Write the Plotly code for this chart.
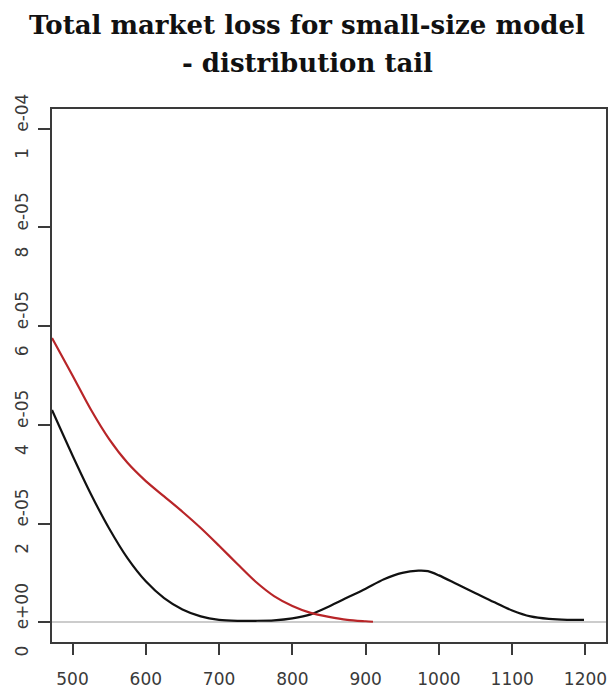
import plotly.graph_objects as go

# Tail of the total market loss density: fitted model (black) vs. empirical (red)
model_loss = [472, 500, 525, 550, 575, 600, 625, 650, 675, 700, 725, 750, 775,
              800, 825, 850, 875, 900, 925, 950, 972, 985, 1000, 1025, 1050, 1075,
              1100, 1125, 1150, 1175, 1198]
model_density = [4.30e-5, 3.38e-5, 2.60e-5, 1.90e-5, 1.30e-5, 0.83e-5, 0.49e-5, 0.26e-5,
                 0.12e-5, 0.05e-5, 0.03e-5, 0.03e-5, 0.04e-5, 0.08e-5, 0.16e-5, 0.32e-5,
                 0.50e-5, 0.68e-5, 0.87e-5, 1.00e-5, 1.045e-5, 1.035e-5, 0.95e-5, 0.77e-5,
                 0.59e-5, 0.41e-5, 0.24e-5, 0.12e-5, 0.07e-5, 0.05e-5, 0.05e-5]

empirical_loss = [472, 500, 525, 550, 575, 600, 625, 650, 675, 700, 725, 750, 775, 800,
                  825, 850, 875, 900, 910]
empirical_density = [5.76e-5, 5.00e-5, 4.31e-5, 3.71e-5, 3.23e-5, 2.86e-5, 2.55e-5, 2.24e-5,
                     1.91e-5, 1.55e-5, 1.18e-5, 0.82e-5, 0.53e-5, 0.33e-5, 0.19e-5, 0.11e-5,
                     0.05e-5, 0.02e-5, 0.01e-5]

x_ticks = [500, 600, 700, 800, 900, 1000, 1100, 1200]
y_ticks = [0, 2e-5, 4e-5, 6e-5, 8e-5, 1e-4]
y_tick_text = ["0\u00a0\u00a0\u00a0e+00", "2\u00a0\u00a0\u00a0e-05", "4\u00a0\u00a0\u00a0e-05",
               "6\u00a0\u00a0\u00a0e-05", "8\u00a0\u00a0\u00a0e-05", "1\u00a0\u00a0\u00a0e-04"]

title_lines = ["Total market loss for small-size model", "- distribution tail"]

axis_color = "#3a3a3a"
tick_font = dict(family="DejaVu Sans", size=17, color="#3a3a3a")

fig = go.Figure()
fig.add_trace(go.Scatter(x=model_loss, y=model_density, mode="lines",
                         line=dict(color="#111111", width=2.2, shape="spline", smoothing=0.8),
                         showlegend=False, hoverinfo="skip"))
fig.add_trace(go.Scatter(x=empirical_loss, y=empirical_density, mode="lines",
                         line=dict(color="#b82528", width=2.2, shape="spline", smoothing=0.8),
                         showlegend=False, hoverinfo="skip"))

fig.update_xaxes(range=[472, 1228], tickvals=x_ticks, ticks="outside", ticklen=11,
                 tickwidth=1.5, tickcolor=axis_color, showline=True, mirror=True,
                 linecolor=axis_color, linewidth=1.5, showgrid=False, zeroline=False,
                 tickfont=tick_font, ticklabelstandoff=10, automargin=False)
fig.update_yaxes(range=[-4e-6, 1.04e-4], tickvals=y_ticks, ticktext=y_tick_text,
                 tickangle=-90, ticks="outside", ticklen=12, tickwidth=1.5,
                 tickcolor=axis_color, showline=True, mirror=True, linecolor=axis_color,
                 linewidth=1.5, showgrid=False, zeroline=True, zerolinecolor="#cccccc",
                 zerolinewidth=1.5, tickfont=tick_font, ticklabelstandoff=3,
                 automargin=False)

title_font = dict(family="DejaVu Serif", size=26, color="#111111")
fig.add_annotation(text="<b>%s</b>" % title_lines[0], xref="paper", yref="paper",
                   x=0.461, y=1.1575, xanchor="center", yanchor="middle",
                   showarrow=False, font=title_font)
fig.add_annotation(text="<b>%s</b>" % title_lines[1], xref="paper", yref="paper",
                   x=0.461, y=1.087, xanchor="center", yanchor="middle",
                   showarrow=False, font=title_font)

fig.update_layout(width=608, height=690, margin=dict(l=52, r=2, t=109, b=48),
                  paper_bgcolor="white", plot_bgcolor="white")

fig.write_html("out.html")
